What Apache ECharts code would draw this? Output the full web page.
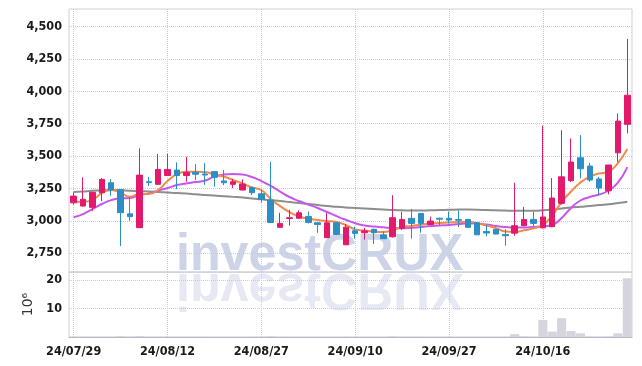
<!DOCTYPE html>
<html>
<head>
<meta charset="utf-8">
<script src="https://cdn.jsdelivr.net/npm/echarts@6/dist/echarts.min.js"></script>
<style>
  html, body { margin: 0; padding: 0; background: #fff; }
  #main { width: 642px; height: 366px; }
</style>
</head>
<body>
<div id="main"></div>
<script>
// 거래일 (24/07/29 ~ 24/10/29)
var days = ['24/07/29', '24/07/30', '24/07/31', '24/08/01', '24/08/02', '24/08/05', '24/08/06', '24/08/07', '24/08/08', '24/08/09',
    '24/08/12', '24/08/13', '24/08/14', '24/08/16', '24/08/19', '24/08/20', '24/08/21', '24/08/22', '24/08/23', '24/08/26',
    '24/08/27', '24/08/28', '24/08/29', '24/08/30', '24/09/02', '24/09/03', '24/09/04', '24/09/05', '24/09/06', '24/09/09',
    '24/09/10', '24/09/11', '24/09/12', '24/09/13', '24/09/19', '24/09/20', '24/09/23', '24/09/24', '24/09/25', '24/09/26',
    '24/09/27', '24/09/30', '24/10/02', '24/10/04', '24/10/07', '24/10/08', '24/10/10', '24/10/11', '24/10/14', '24/10/15',
    '24/10/16', '24/10/17', '24/10/18', '24/10/21', '24/10/22', '24/10/23', '24/10/24', '24/10/25', '24/10/28', '24/10/29'];

// 시가 / 종가 / 저가 / 고가
var openSet = [3139, 3114, 3104, 3217, 3294, 3240, 3054, 2947, 3302, 3282,
    3350, 3392, 3350, 3376, 3362, 3380, 3308, 3282, 3238, 3258,
    3209, 3160, 2950, 3018, 3020, 3034, 2985, 2870, 2985, 2815,
    2923, 2908, 2934, 2892, 2877, 2942, 3019, 3057, 2972, 3020,
    3019, 3010, 3011, 2985, 2918, 2934, 2895, 2905, 2962, 3011,
    2946, 2955, 3135, 3310, 3487, 3423, 3323, 3232, 3525, 3745];
var closeSet = [3191, 3166, 3220, 3320, 3238, 3063, 3032, 3353, 3295, 3397,
    3397, 3350, 3374, 3360, 3354, 3336, 3294, 3302, 3284, 3217,
    3165, 2987, 2980, 3024, 3062, 2988, 2972, 2985, 2895, 2951,
    2903, 2922, 2908, 2862, 3024, 3011, 2980, 2980, 2998, 3013,
    3006, 3004, 2950, 2892, 2906, 2898, 2885, 2962, 3011, 2980,
    3030, 3176, 3340, 3454, 3402, 3315, 3253, 3431, 3770, 3970];
var lowSet = [3125, 3110, 3077, 3152, 3195, 2805, 3000, 2945, 3270, 3280,
    3348, 3245, 3302, 3315, 3278, 3263, 3276, 3252, 3236, 3199,
    3140, 2985, 2948, 2962, 3016, 2980, 2907, 2868, 2890, 2812,
    2862, 2855, 2822, 2860, 2870, 2930, 2862, 2908, 2968, 2962,
    2980, 2952, 2946, 2890, 2880, 2895, 2808, 2885, 2960, 2960,
    2940, 2950, 3125, 3300, 3328, 3302, 3199, 3205, 3455, 3675];
var highSet = [3220, 3336, 3224, 3330, 3322, 3245, 3183, 3560, 3340, 3517,
    3518, 3452, 3495, 3438, 3445, 3382, 3392, 3322, 3320, 3262,
    3236, 3456, 3062, 3085, 3080, 3072, 2988, 3062, 2990, 2975,
    2955, 2945, 2940, 2918, 3198, 3070, 3092, 3060, 3032, 3024,
    3072, 3080, 3014, 2988, 2970, 2938, 2935, 3294, 3108, 3070,
    3735, 3330, 3700, 3636, 3662, 3448, 3340, 3433, 3830, 4405];

// 이동평균선
var ma5 = [3147, 3147, 3160, 3215, 3238, 3217, 3186, 3207, 3207, 3238,
    3307, 3361, 3379, 3379, 3377, 3357, 3342, 3315, 3288, 3257,
    3238, 3168, 3114, 3068, 3033, 3018, 3006, 2998, 2991, 2968,
    2934, 2925, 2917, 2914, 2929, 2952, 2960, 2970, 2979, 2983,
    2987, 2991, 2993, 2981, 2964, 2944, 2917, 2914, 2927, 2942,
    2968, 3041, 3145, 3226, 3296, 3342, 3365, 3379, 3446, 3554];
var ma20 = [3027, 3052, 3091, 3130, 3160, 3174, 3176, 3199, 3211, 3234,
    3253, 3276, 3288, 3299, 3311, 3342, 3357, 3361, 3357, 3338,
    3307, 3269, 3226, 3184, 3153, 3126, 3099, 3068, 3037, 3008,
    2981, 2964, 2956, 2950, 2944, 2942, 2946, 2952, 2960, 2964,
    2968, 2975, 2981, 2979, 2971, 2960, 2952, 2948, 2948, 2952,
    2957, 2968, 3022, 3099, 3157, 3184, 3203, 3234, 3296, 3415];
var ma120 = [3222, 3227, 3232, 3235, 3238, 3236, 3232, 3230, 3226, 3222,
    3218, 3214, 3211, 3205, 3200, 3195, 3190, 3185, 3180, 3172,
    3166, 3160, 3153, 3145, 3137, 3130, 3122, 3114, 3108, 3103,
    3099, 3095, 3091, 3087, 3083, 3081, 3079, 3079, 3081, 3083,
    3085, 3087, 3087, 3086, 3083, 3081, 3079, 3078, 3078, 3078,
    3081, 3087, 3095, 3103, 3108, 3114, 3122, 3128, 3137, 3147];

// 거래량 (10^6)
var volumeSet = [0.08, 0.1, 0.06, 0.09, 0.05, 0.3, 0.1, 0.35, 0.05, 0.1,
    0.08, 0.06, 0.07, 0.04, 0.05, 0.04, 0.03, 0.03, 0.03, 0.04,
    0.06, 0.25, 0.05, 0.04, 0.03, 0.03, 0.03, 0.05, 0.04, 0.06,
    0.03, 0.03, 0.04, 0.03, 0.25, 0.08, 0.06, 0.05, 0.03, 0.03,
    0.03, 0.03, 0.03, 0.05, 0.03, 0.03, 0.04, 1.0, 0.2, 0.1,
    6.0, 1.9, 6.6, 2.1, 1.3, 0.15, 0.1, 0.2, 1.3, 20.6];

var upColor = '#e3196b';
var downColor = '#2b8fc6';
var gridLine = '#c9cadb';
var labelFont = '"DejaVu Sans Condensed", "DejaVu Sans", sans-serif';

var candleData = [];
for (var i = 0; i < days.length; i++) {
    candleData.push([openSet[i], closeSet[i], lowSet[i], highSet[i]]);
}

function everyTen(idx) {
    return idx % 10 === 0;
}

var chart = echarts.init(document.getElementById('main'));

var option = {
    animation: false,
    backgroundColor: '#fff',
    grid: [
        // 가격 영역 테두리
        { left: 69, right: 10, top: 9, height: 263, show: true, borderColor: '#cfd0dc', borderWidth: 1 },
        // 가격
        { left: 69, right: 10, top: 26.6, height: 226.6 },
        // 거래량
        { left: 69, right: 10, top: 272, height: 65, show: true, borderColor: '#cfd0dc', borderWidth: 1 }
    ],
    graphic: [
        {
            type: 'text', x: 176, y: 282, scaleX: 0.965, z: -10, silent: true,
            style: { text: 'investCRUX', font: 'bold 52px "Liberation Sans", sans-serif', fill: 'rgba(196,204,228,0.85)', verticalAlign: 'bottom' }
        },
        {
            type: 'text', x: 176, y: 262, scaleX: 0.965, scaleY: -1, z: -10, silent: true,
            style: { text: 'investCRUX', font: 'bold 52px "Liberation Sans", sans-serif', fill: 'rgba(214,218,236,0.6)', verticalAlign: 'bottom' }
        }
    ],
    xAxis: [
        {
            type: 'category', gridIndex: 0, data: days,
            axisLine: { show: false }, axisTick: { show: false }, axisLabel: { show: false },
            splitLine: { show: true, alignWithLabel: true, interval: everyTen, lineStyle: { color: gridLine, type: 'dotted' } }
        },
        {
            type: 'category', gridIndex: 1, data: days, show: false
        },
        {
            type: 'category', gridIndex: 2, data: days,
            axisLine: { lineStyle: { color: '#b8b9c6' } },
            axisTick: { show: false },
            axisLabel: { interval: everyTen, color: '#1a1a1a', fontFamily: labelFont, fontWeight: 'bold', fontSize: 12.5, margin: 8 },
            splitLine: { show: true, alignWithLabel: true, interval: everyTen, lineStyle: { color: gridLine, type: 'dotted' } }
        }
    ],
    yAxis: [
        { type: 'value', gridIndex: 0, show: false, splitLine: { show: false } },
        {
            type: 'value', gridIndex: 1, min: 2750, max: 4500, interval: 250,
            axisLine: { show: false }, axisTick: { show: false },
            axisLabel: {
                color: '#1a1a1a', fontFamily: labelFont, fontWeight: 'bold', fontSize: 12.5, margin: 7,
                formatter: function (v) { return v.toLocaleString('en-US'); }
            },
            splitLine: { lineStyle: { color: gridLine, type: 'dotted' } }
        },
        {
            type: 'value', gridIndex: 2, min: 0, max: 22.8, interval: 10,
            name: '10⁶', nameLocation: 'middle', nameRotate: 90, nameGap: 27,
            nameTextStyle: { color: '#333', fontFamily: '"DejaVu Sans", sans-serif', fontSize: 14 },
            axisLine: { show: false }, axisTick: { show: false },
            axisLabel: { color: '#1a1a1a', fontFamily: labelFont, fontWeight: 'bold', fontSize: 12.5, margin: 7, showMinLabel: false, showMaxLabel: false },
            splitLine: { lineStyle: { color: gridLine, type: 'dotted' } }
        }
    ],
    series: [
        {
            name: 'MA120', type: 'line', xAxisIndex: 1, yAxisIndex: 1, data: ma120,
            symbol: 'none', smooth: true, lineStyle: { color: '#7a7a7a', width: 2, opacity: 0.85 }
        },
        {
            name: 'MA20', type: 'line', xAxisIndex: 1, yAxisIndex: 1, data: ma20,
            symbol: 'none', smooth: true, lineStyle: { color: '#c856ec', width: 2 }
        },
        {
            name: 'MA5', type: 'line', xAxisIndex: 1, yAxisIndex: 1, data: ma5,
            symbol: 'none', smooth: true, lineStyle: { color: '#ef8a4c', width: 2 }
        },
        {
            name: '주가', type: 'candlestick', xAxisIndex: 1, yAxisIndex: 1, data: candleData,
            barWidth: 6, z: 5,
            itemStyle: { color: upColor, color0: downColor, borderColor: upColor, borderColor0: downColor, borderWidth: 1 }
        },
        {
            name: '거래량', type: 'bar', xAxisIndex: 2, yAxisIndex: 2, data: volumeSet,
            barCategoryGap: '3%', itemStyle: { color: '#d5d5dd' }
        }
    ]
};

chart.setOption(option);
</script>
</body>
</html>
